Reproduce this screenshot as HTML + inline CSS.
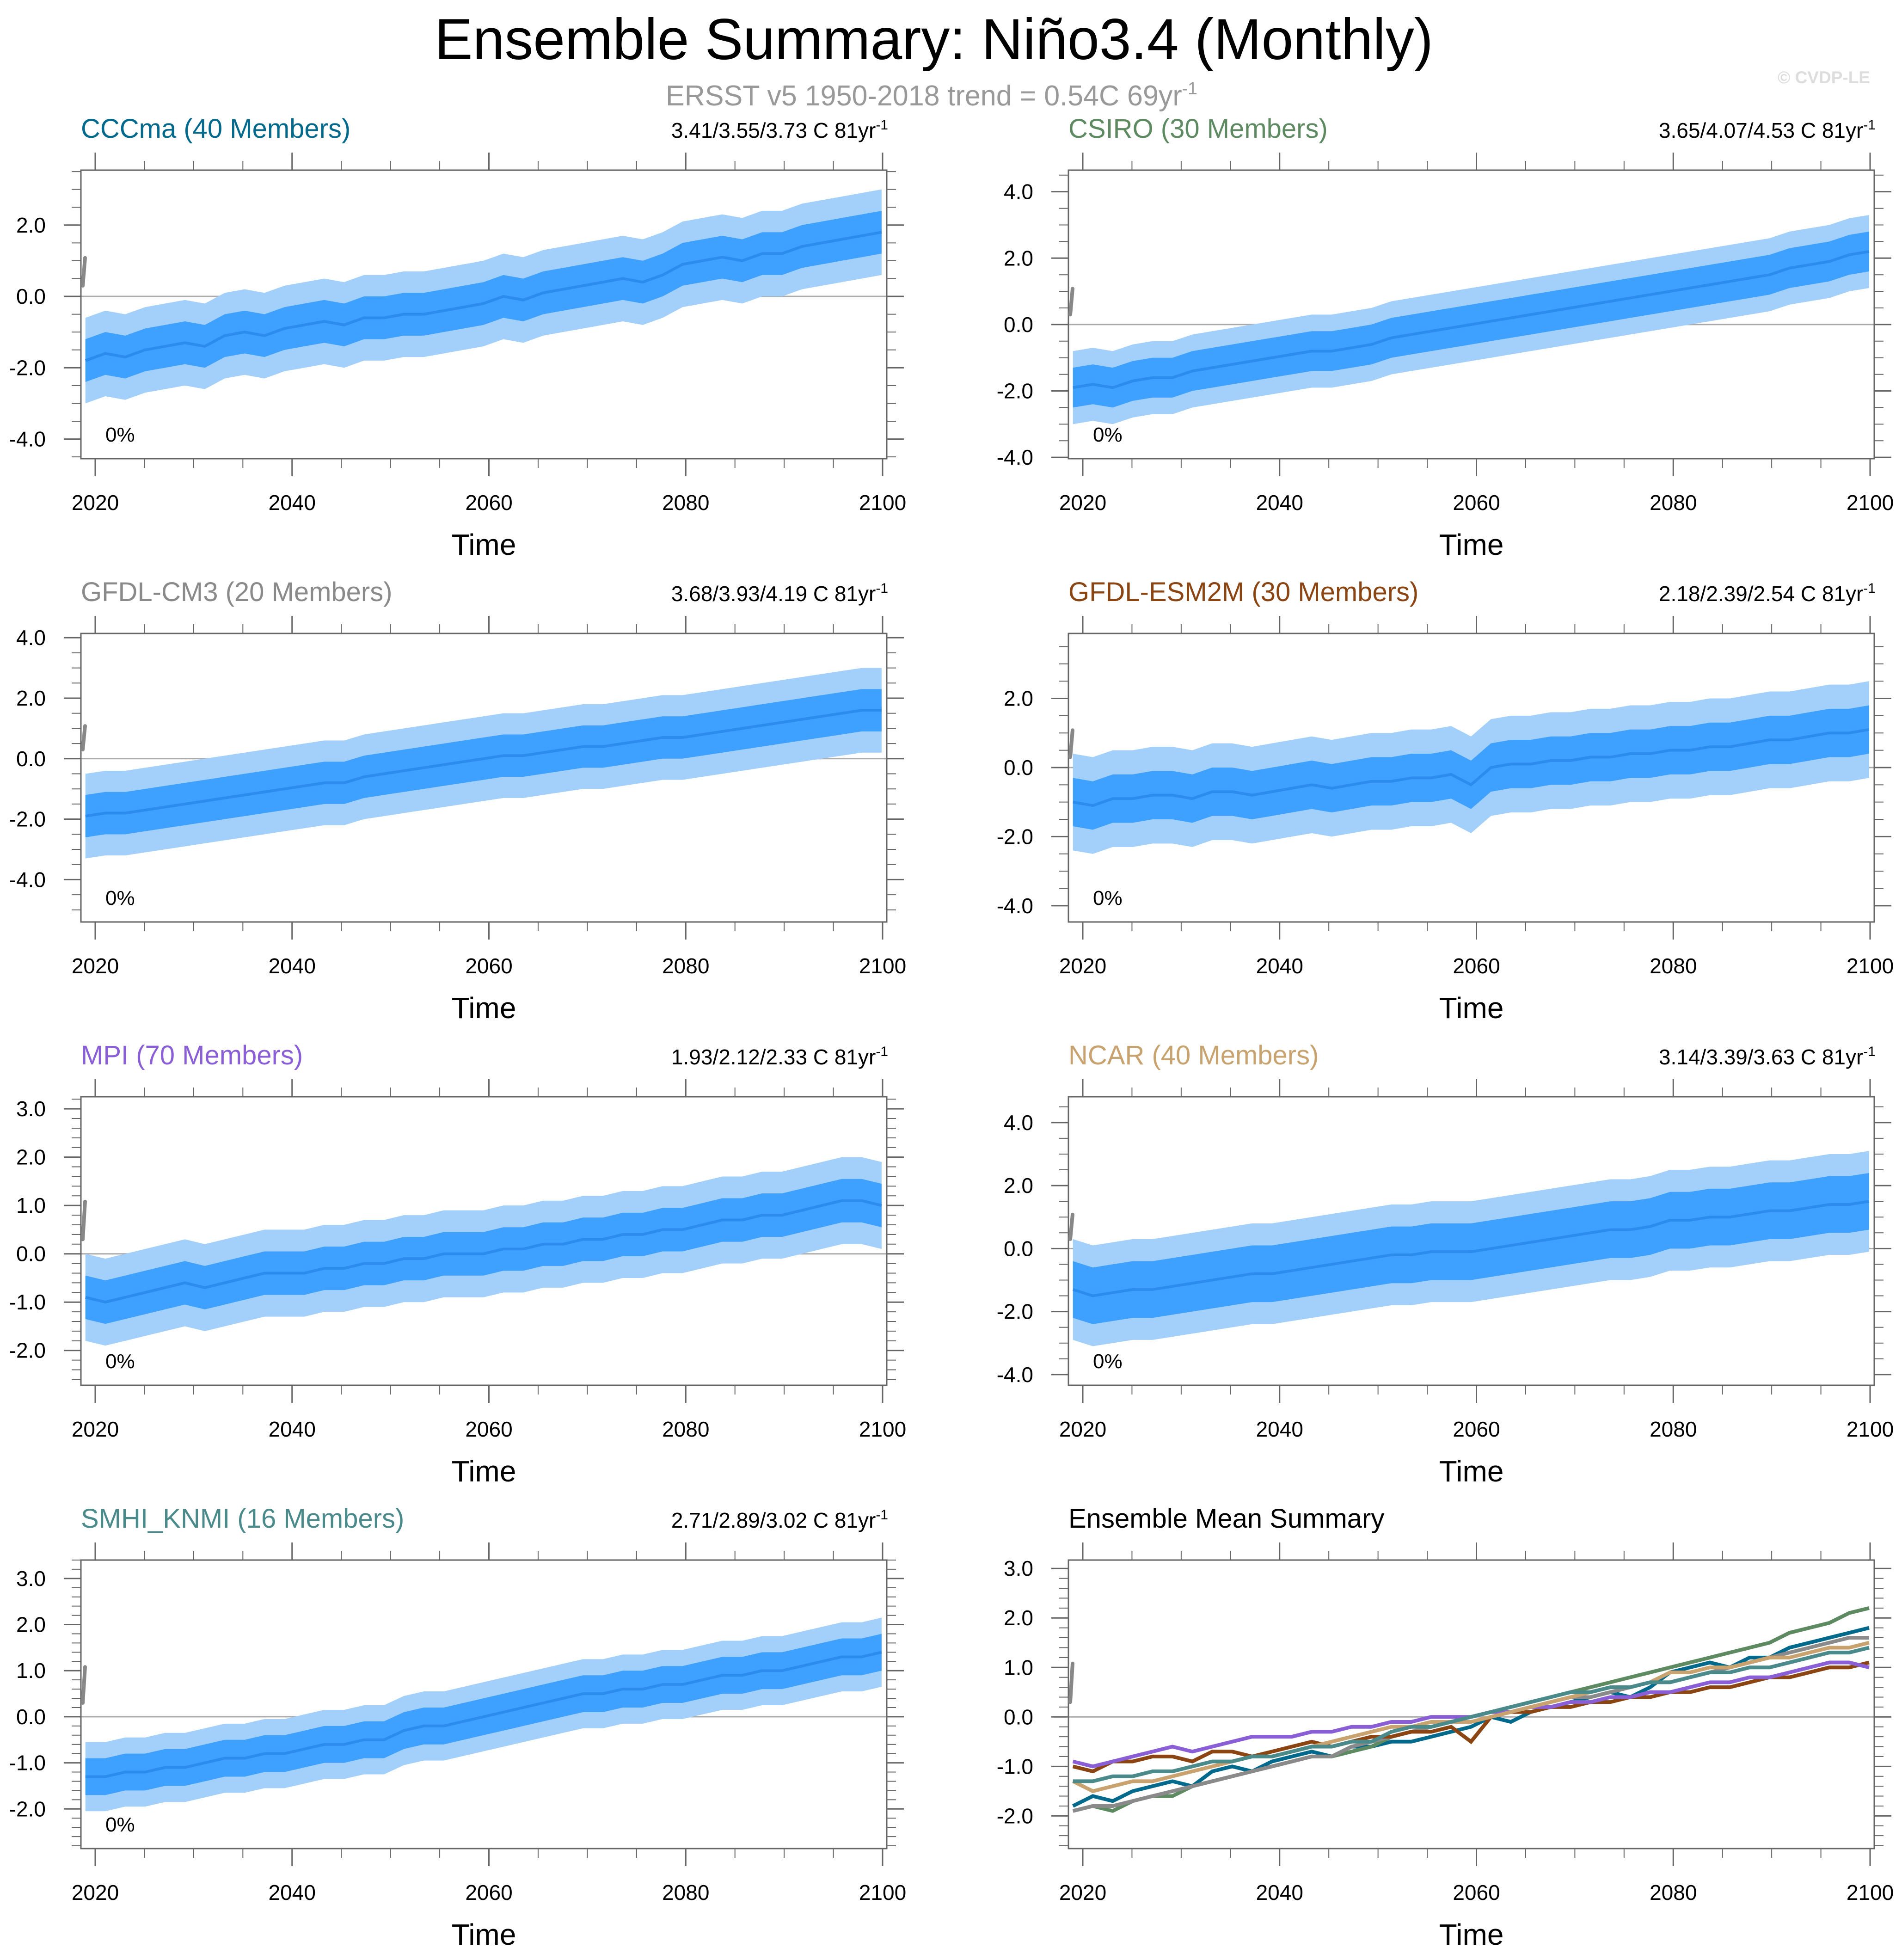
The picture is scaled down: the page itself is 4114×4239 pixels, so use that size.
<!DOCTYPE html>
<html><head><meta charset="utf-8"><style>
html,body{margin:0;padding:0;background:#fff;}
svg{display:block;font-family:"Liberation Sans",sans-serif;}
</style></head><body>
<svg id="chart" width="4114" height="4239" viewBox="0 0 4114 4239" xmlns="http://www.w3.org/2000/svg">
<rect width="4114" height="4239" fill="#fff"/>
<text x="940" y="128" font-size="125" textLength="2160" lengthAdjust="spacingAndGlyphs" fill="#000">Ensemble Summary: Niño3.4 (Monthly)</text>
<text x="1440" y="228" font-size="62" fill="#999" textLength="1150" lengthAdjust="spacingAndGlyphs">ERSST v5 1950-2018 trend = 0.54C 69yr<tspan dy="-24" font-size="38">-1</tspan></text>
<text x="4045" y="180" font-size="37" font-weight="bold" fill="#ddd" text-anchor="end">© CVDP-LE</text>
<g id="panels"></g>
</svg>
<script>
// ---- data (2-year resolution, 2019..2100) ----
const names = ["CCCma (40 Members)","CSIRO (30 Members)","GFDL-CM3 (20 Members)","GFDL-ESM2M (30 Members)","MPI (70 Members)","NCAR (40 Members)","SMHI_KNMI (16 Members)"];
const colors = ["#00698c","#5e8a62","#8a8a8a","#8b4513","#8a5fd6","#c9a36f","#4a8a8a"];
const stats = ["3.41/3.55/3.73 C 81yr","3.65/4.07/4.53 C 81yr","3.68/3.93/4.19 C 81yr","2.18/2.39/2.54 C 81yr","1.93/2.12/2.33 C 81yr","3.14/3.39/3.63 C 81yr","2.71/2.89/3.02 C 81yr"];
const meanCCCma = [-1.8,-1.6,-1.7,-1.5,-1.4,-1.3,-1.4,-1.1,-1.0,-1.1,-0.9,-0.8,-0.7,-0.8,-0.6,-0.6,-0.5,-0.5,-0.4,-0.3,-0.2,0.0,-0.1,0.1,0.2,0.3,0.4,0.5,0.4,0.6,0.9,1.0,1.1,1.0,1.2,1.2,1.4,1.5,1.6,1.7,1.8];
const meanCSIRO = [-1.9,-1.8,-1.9,-1.7,-1.6,-1.6,-1.4,-1.3,-1.2,-1.1,-1.0,-0.9,-0.8,-0.8,-0.7,-0.6,-0.4,-0.3,-0.2,-0.1,0.0,0.1,0.2,0.3,0.4,0.5,0.6,0.7,0.8,0.9,1.0,1.1,1.2,1.3,1.4,1.5,1.7,1.8,1.9,2.1,2.2];
const meanCM3 = [-1.9,-1.8,-1.8,-1.7,-1.6,-1.5,-1.4,-1.3,-1.2,-1.1,-1.0,-0.9,-0.8,-0.8,-0.6,-0.5,-0.4,-0.3,-0.2,-0.1,0.0,0.1,0.1,0.2,0.3,0.4,0.4,0.5,0.6,0.7,0.7,0.8,0.9,1.0,1.1,1.2,1.3,1.4,1.5,1.6,1.6];
const meanESM = [-1.0,-1.1,-0.9,-0.9,-0.8,-0.8,-0.9,-0.7,-0.7,-0.8,-0.7,-0.6,-0.5,-0.6,-0.5,-0.4,-0.4,-0.3,-0.3,-0.2,-0.5,0.0,0.1,0.1,0.2,0.2,0.3,0.3,0.4,0.4,0.5,0.5,0.6,0.6,0.7,0.8,0.8,0.9,1.0,1.0,1.1];
const meanMPI = [-0.9,-1.0,-0.9,-0.8,-0.7,-0.6,-0.7,-0.6,-0.5,-0.4,-0.4,-0.4,-0.3,-0.3,-0.2,-0.2,-0.1,-0.1,0.0,0.0,0.0,0.1,0.1,0.2,0.2,0.3,0.3,0.4,0.4,0.5,0.5,0.6,0.7,0.7,0.8,0.8,0.9,1.0,1.1,1.1,1.0];
const meanNCAR = [-1.3,-1.5,-1.4,-1.3,-1.3,-1.2,-1.1,-1.0,-0.9,-0.8,-0.8,-0.7,-0.6,-0.5,-0.4,-0.3,-0.2,-0.2,-0.1,-0.1,-0.1,0.0,0.1,0.2,0.3,0.4,0.5,0.6,0.6,0.7,0.9,0.9,1.0,1.0,1.1,1.2,1.2,1.3,1.4,1.4,1.5];
const meanSMHI = [-1.3,-1.3,-1.2,-1.2,-1.1,-1.1,-1.0,-0.9,-0.9,-0.8,-0.8,-0.7,-0.6,-0.6,-0.5,-0.5,-0.3,-0.2,-0.2,-0.1,0.0,0.1,0.2,0.3,0.4,0.5,0.5,0.6,0.6,0.7,0.7,0.8,0.9,0.9,1.0,1.0,1.1,1.2,1.3,1.3,1.4];
const innerW = [0.6,0.6,0.7,0.7,0.45,0.9,0.4];
const outerW = [1.2,1.1,1.4,1.4,0.9,1.6,0.75];
const yMin = [-4.55,-4.04,-5.4,-4.47,-2.72,-4.34,-2.86,-2.66];
const yMax = [3.54,4.65,4.14,3.88,3.25,4.82,3.4,3.17];
const yStep = [2,2,2,2,1,2,1,1];
const yMinor = [0.5,0.5,0.5,0.5,0.2,0.5,0.2,0.2];
const xTicks = [2020,2040,2060,2080,2100];
const means = [meanCCCma,meanCSIRO,meanCM3,meanESM,meanMPI,meanNCAR,meanSMHI];

const NS="http://www.w3.org/2000/svg";
const root=document.getElementById("panels");
function el(tag,attrs,parent){const e=document.createElementNS(NS,tag);for(const k in attrs)e.setAttribute(k,attrs[k]);(parent||root).appendChild(e);return e;}
const W=1743,H=624;
function mkPanel(i){
  const c=i%2,r=Math.floor(i/2);
  const L=175+c*2136,T=368+r*1002;
  const g=el("g",{});
  
  
  const X=y=>L+31+(y-2020)*(1703/80);
  const Y=v=>T+(yMax[i]-v)/(yMax[i]-yMin[i])*H;
  const z=el("line",{x1:L,x2:L+W,y1:Y(0),y2:Y(0),stroke:"#aaa","stroke-width":3},g);
  
  
  const xs=n=>2019+80.9*n;
  if(i<7){
    const m=means[i],n=m.length;
    const band=(w,fill,nm)=>{
      let d="";
      for(let k=0;k<n;k++)d+=(k?"L":"M")+X(xs(k/(n-1)))+","+Y(m[k]+w);
      for(let k=n-1;k>=0;k--)d+="L"+X(xs(k/(n-1)))+","+Y(m[k]-w);
      const p=el("path",{d:d+"Z",fill:fill},g);
      
      
    };
    band(outerW[i],"#a3d0fa","outer-spread-band");
    band(innerW[i],"#3ea0ff","inner-spread-band");
    let d="";
    for(let k=0;k<n;k++)d+=(k?"L":"M")+X(xs(k/(n-1)))+","+Y(m[k]);
    const ln=el("path",{d:d,fill:"none",stroke:"#2b8ced","stroke-width":6},g);
    
    
  } else {
    for(let s=0;s<7;s++){
      const m=means[s],n=m.length;let d="";
      for(let k=0;k<n;k++)d+=(k?"L":"M")+X(xs(k/(n-1)))+","+Y(m[k]);
      const ln=el("path",{d:d,fill:"none",stroke:colors[s],"stroke-width":8},g);
      
      
    }
  }
  const fr=el("rect",{x:L,y:T,width:W,height:H,fill:"none",stroke:"#666","stroke-width":3},g);
  
  
  const ob=el("line",{x1:L+4,y1:Y(0.3),x2:L+9,y2:Y(1.08),stroke:"#888","stroke-width":8,"stroke-linecap":"round"},g);
  
  
  for(let yr=2020;yr<=2100;yr+=5){
    const maj=yr%20===0,len=maj?38:20,x=X(yr);
    el("line",{x1:x,x2:x,y1:T+H,y2:T+H+len,stroke:"#666","stroke-width":maj?3:2},g);
    el("line",{x1:x,x2:x,y1:T,y2:T-len,stroke:"#666","stroke-width":maj?3:2},g);
  }
  xTicks.forEach(yr=>{
    const t=el("text",{x:X(yr),y:T+H+111,"font-size":46,"text-anchor":"middle",fill:"#000"},g);
    
    
    t.textContent=yr;
  });
  const mi=yMinor[i];
  for(let v=Math.ceil(yMin[i]/mi)*mi;v<=yMax[i]+1e-9;v+=mi){
    const vv=Math.round(v*100)/100;
    const maj=Math.abs(vv/yStep[i]-Math.round(vv/yStep[i]))<1e-6,len=maj?37:20,y=Y(vv);
    el("line",{x1:L,x2:L-len,y1:y,y2:y,stroke:"#666","stroke-width":maj?3:2},g);
    el("line",{x1:L+W,x2:L+W+len,y1:y,y2:y,stroke:"#666","stroke-width":maj?3:2},g);
    if(maj){
      const t=el("text",{x:L-76,y:y+16,"font-size":46,"text-anchor":"end",fill:"#000"},g);
      
      
      t.textContent=vv.toFixed(1);
    }
  }
  const tt=el("text",{x:L+W/2,y:T+H+208,"font-size":64,"text-anchor":"middle",fill:"#000"},g);
  
  
  tt.textContent="Time";
  const ti=el("text",{x:L,y:T-70,"font-size":58,fill:i<7?colors[i]:"#000"},g);
  
  
  ti.textContent=i<7?names[i]:"Ensemble Mean Summary";
  if(i<7){
    const st=el("text",{x:L+W+3,y:T-70,"font-size":46,"text-anchor":"end",fill:"#000"},g);
    
    
    st.textContent=stats[i];
    const sp=el("tspan",{dy:-18,"font-size":30},st);sp.textContent="-1";
    const pc=el("text",{x:L+53,y:T+H-37,"font-size":44,fill:"#000"},g);
    
    
    pc.textContent="0%";
  }
}
for(let i=0;i<8;i++)mkPanel(i);
</script>
</body></html>
